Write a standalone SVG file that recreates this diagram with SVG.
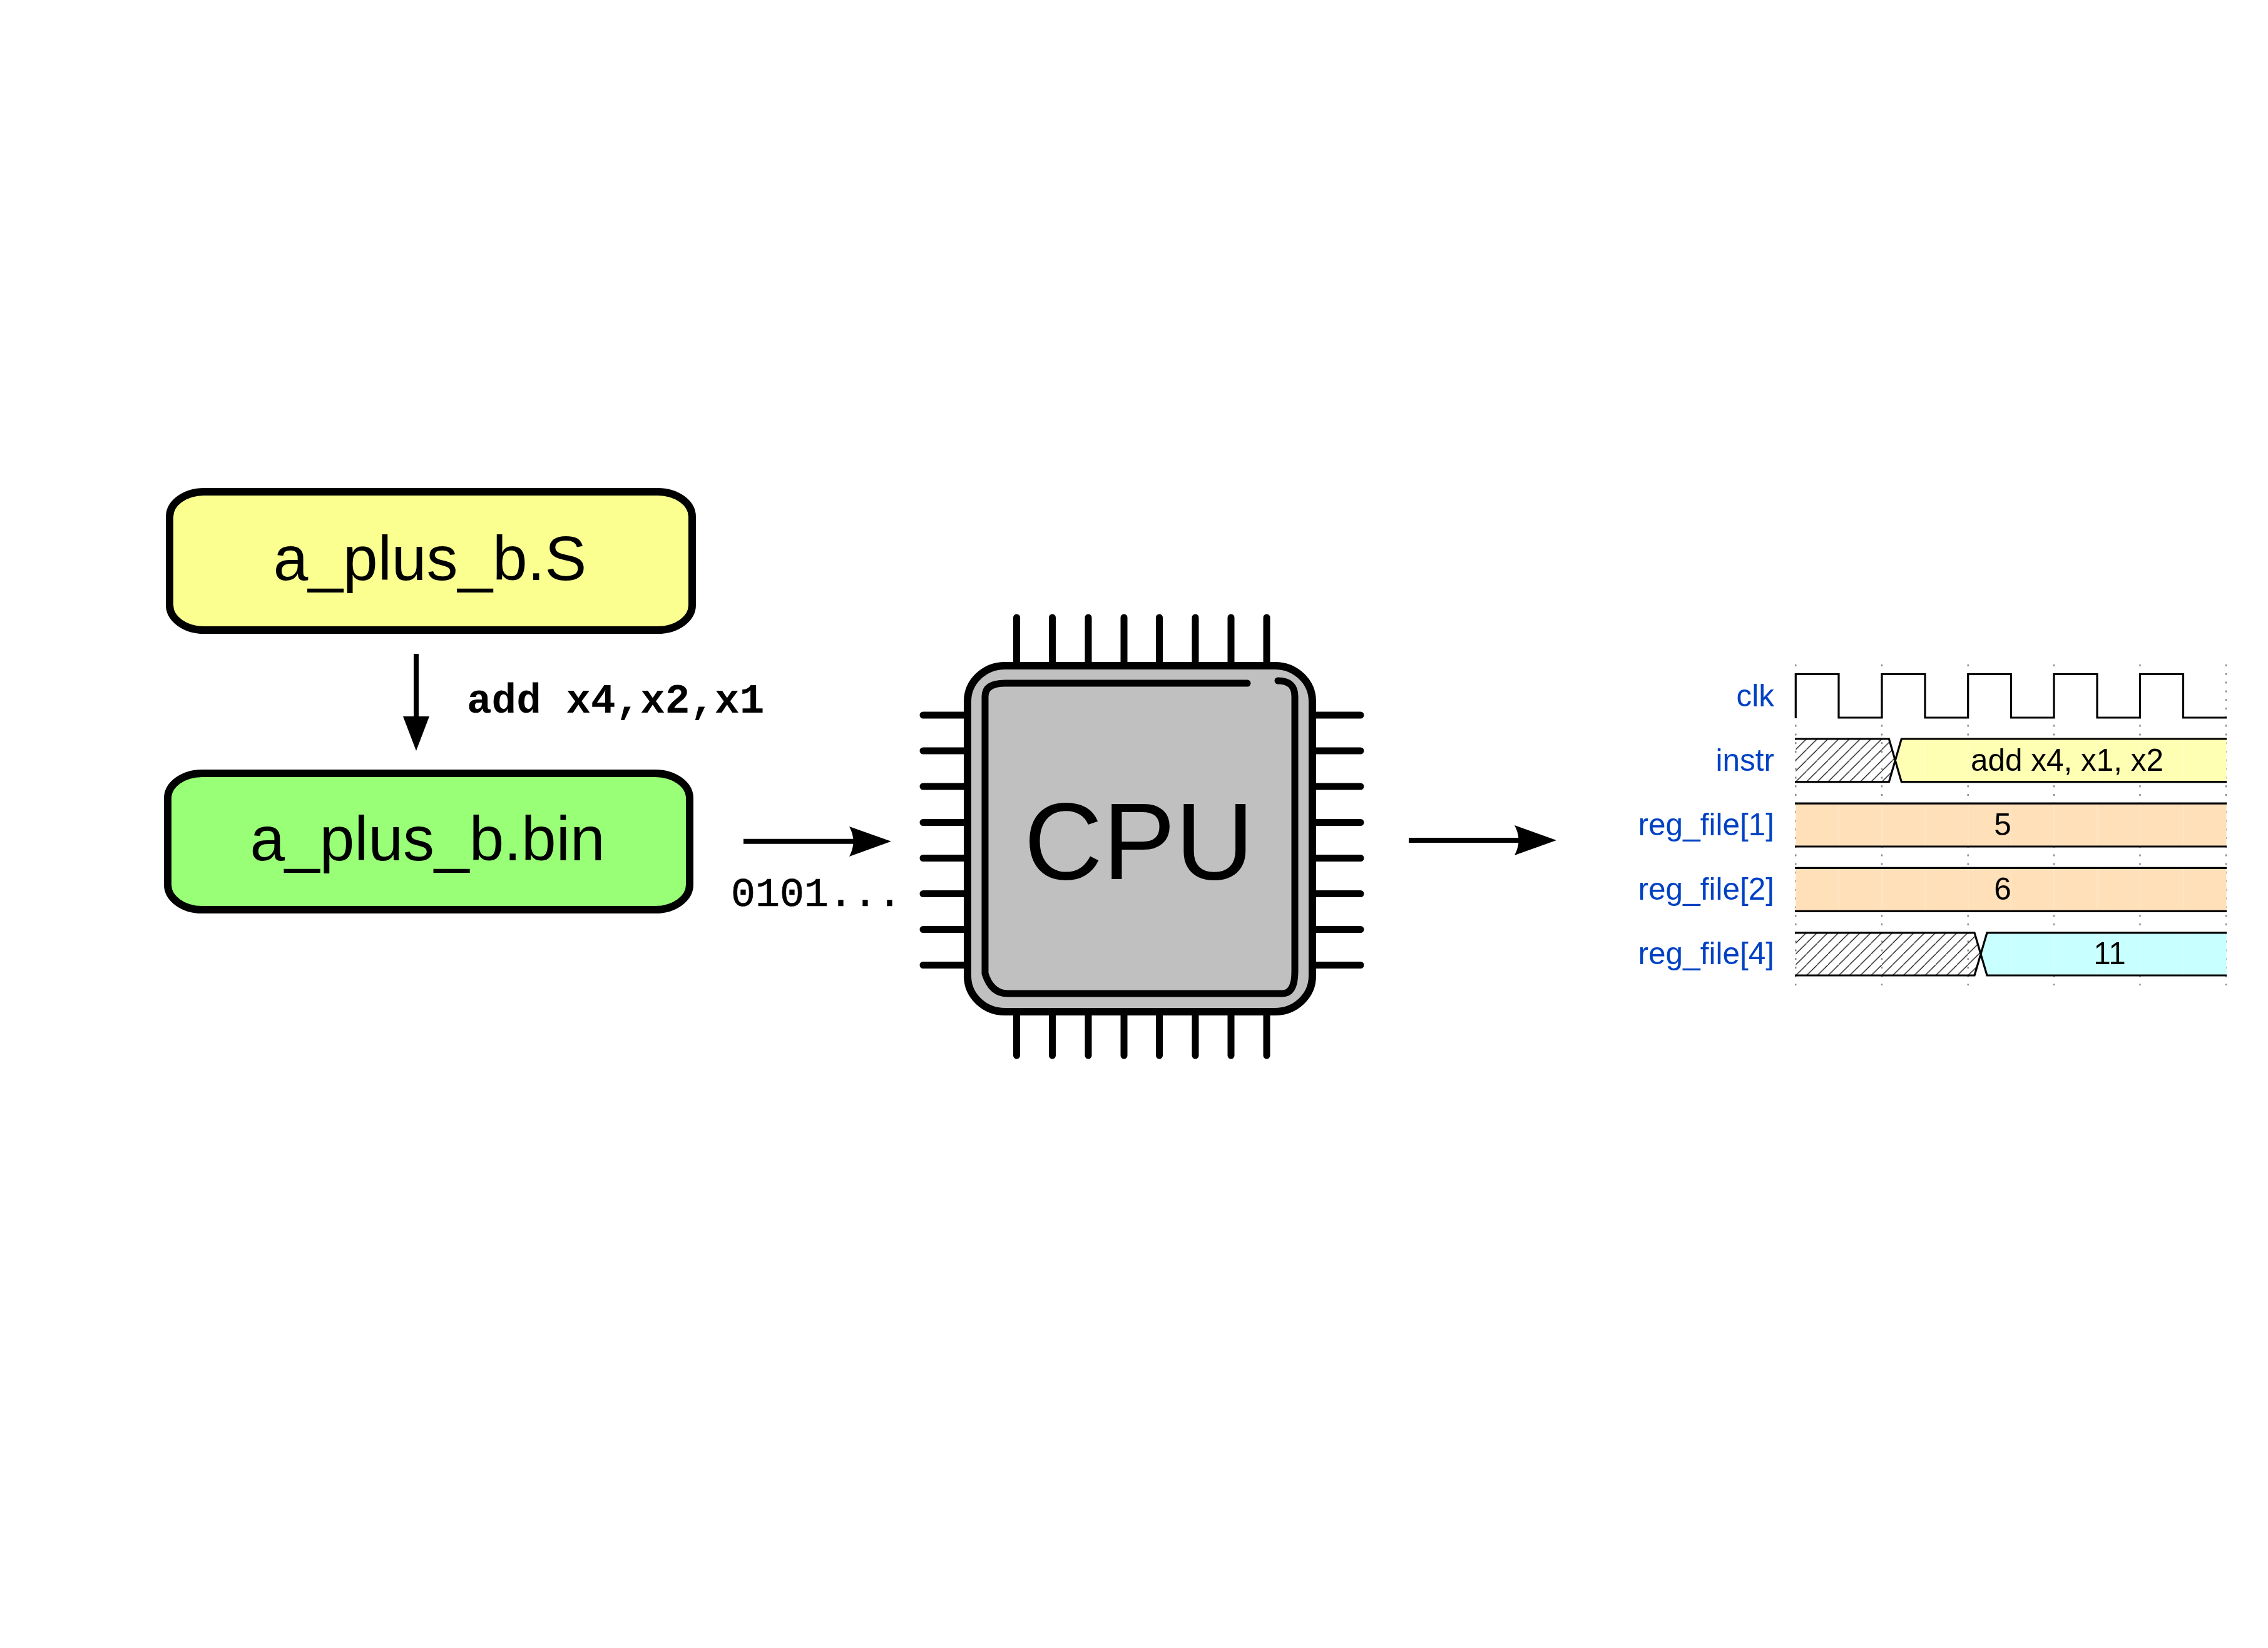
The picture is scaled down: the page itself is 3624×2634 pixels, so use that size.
<svg xmlns="http://www.w3.org/2000/svg" width="3624" height="2634" viewBox="0 0 3624 2634">
<style>
text{font-family:"Liberation Sans",Arial,sans-serif;fill:#000}
.big{font-size:100px;text-anchor:middle}
.mono{font-family:"Liberation Mono","Courier New",monospace;font-size:66px}
.box{stroke:#000;stroke-width:12}
.conn{stroke:#000;stroke-width:8;fill:none}
.pin{stroke:#000;stroke-width:11;stroke-linecap:round;fill:none}
.sig{font-size:49.5px;fill:#0041c4;text-anchor:end}
.val{font-size:49.5px;text-anchor:middle}
.wave{stroke:#000;stroke-width:3.2;fill:none}
.grid{stroke:#888;stroke-width:2.4;stroke-dasharray:3 10.8;fill:none}
.faint{stroke:#fff;stroke-width:2;opacity:.18;fill:none}
</style>
<defs>
<pattern id="hatch" patternUnits="userSpaceOnUse" x="2869.3" y="1249.7" width="17.2" height="17.2">
<path d="M-1,18.2L18.2,-1" stroke="#000" stroke-width="1.2" fill="none"/>
</pattern>
</defs>
<g id="node-source">
<rect class="box" x="271" y="786" width="835" height="221" rx="55" ry="40" fill="#FAFF8F"/>
<text class="big" x="687" y="927">a_plus_b.S</text>
</g>
<g id="node-binary">
<rect class="box" x="268" y="1236" width="834" height="218" rx="55" ry="40" fill="#99FF77"/>
<text class="big" x="683" y="1375">a_plus_b.bin</text>
</g>
<g id="connectors">
<path class="conn" d="M665,1045V1150"/>
<path d="M644,1145H686L665,1200Z" fill="#000"/>
<path class="conn" d="M1188,1344.7H1370"/>
<path d="M1357,1321L1424,1344.7L1357,1369Q1370,1344.7 1357,1321Z" fill="#000"/>
<path class="conn" d="M2251,1343H2430"/>
<path d="M2420,1319L2487,1343L2420,1367Q2433,1343 2420,1319Z" fill="#000"/>
</g>
<g id="label-asm"><text class="mono" x="746" y="1139" font-weight="bold">add x4,x2,x1</text></g>
<g id="label-bits"><text class="mono" x="1168" y="1448" font-size="65" style="font-size:65px" stroke="#000" stroke-width="0.7">0101...</text></g>
<g id="node-cpu">
<path class="pin" d="M1624.5,987V1058M1681.5,987V1058M1739,987V1058M1796,987V1058M1852.5,987V1058M1910,987V1058M1967,987V1058M2024,987V1058"/>
<path class="pin" d="M1624.5,1622V1687M1681.5,1622V1687M1739,1622V1687M1796,1622V1687M1852.5,1622V1687M1910,1622V1687M1967,1622V1687M2024,1622V1687"/>
<path class="pin" d="M1475,1143H1540M1475,1200H1540M1475,1257H1540M1475,1314.5H1540M1475,1371.5H1540M1475,1428.5H1540M1475,1485.5H1540M1475,1542.5H1540"/>
<path class="pin" d="M2103,1143H2174M2103,1200H2174M2103,1257H2174M2103,1314.5H2174M2103,1371.5H2174M2103,1428.5H2174M2103,1485.5H2174M2103,1542.5H2174"/>
<rect class="box" x="1546" y="1064" width="551" height="553" rx="60" ry="57" fill="#C0C0C0"/>
<path class="pin" d="M1993,1092H1606Q1574,1092 1574,1113V1556Q1584,1588 1610,1588H2049Q2069,1588 2069,1553V1113Q2069,1088 2042,1088"/>
<text x="1820" y="1405" font-size="174" text-anchor="middle">CPU</text>
</g>
<g id="node-waveform">
<path class="grid" d="M2869.3,1062V1575M3007,1062V1575M3144.7,1062V1575M3282,1062V1575M3419.5,1062V1575M3557,1062V1575"/>
<path fill="#ffffb4" d="M3027.5,1215.4L3038.3,1181H3557.5V1249.7H3038.3Z"/>
<path fill="#ffe0b9" d="M2869.3,1284.1H3557.5V1353H2869.3Z"/>
<path fill="#ffe0b9" d="M2869.3,1387.4H3557.5V1456H2869.3Z"/>
<path fill="#c8ffff" d="M3164.6,1525L3175,1490.8H3557.5V1559H3175Z"/>
<path fill="url(#hatch)" d="M2869.3,1181H3018.4L3027.5,1215.4L3018.4,1249.7H2869.3Z"/>
<path fill="url(#hatch)" d="M2869.3,1490.8H3155L3164.6,1525L3155,1559H2869.3Z"/>
<path class="faint" d="M2938,1284V1353M3007,1284V1353M3076,1284V1353M3145,1284V1353M3213.5,1284V1353M3282,1284V1353M3351,1284V1353M3419.5,1284V1353M3488.5,1284V1353M2938,1387V1456M3007,1387V1456M3076,1387V1456M3145,1387V1456M3213.5,1387V1456M3282,1387V1456M3351,1387V1456M3419.5,1387V1456M3488.5,1387V1456M3076,1181V1250M3145,1181V1250M3213.5,1181V1250M3282,1181V1250M3351,1181V1250M3419.5,1181V1250M3488.5,1181V1250M3213.5,1491V1559M3282,1491V1559M3351,1491V1559M3419.5,1491V1559M3488.5,1491V1559"/>
<path class="wave" d="M2869.3,1148V1077.5H2938V1147H3007V1077.5H3076V1147H3144.7V1077.5H3213.5V1147H3282V1077.5H3351V1147H3419.5V1077.5H3488.5V1147H3558"/>
<path class="wave" d="M2868,1181H3018.4L3038.3,1249.7H3558"/>
<path class="wave" d="M2868,1249.7H3018.4L3038.3,1181H3558"/>
<path class="wave" d="M2868,1284.1H3558M2868,1353H3558M2868,1387.4H3558M2868,1456.4H3558"/>
<path class="wave" d="M2868,1490.8H3155L3175,1559H3558"/>
<path class="wave" d="M2868,1559H3155L3175,1490.8H3558"/>
<text class="sig" x="2835" y="1129">clk</text>
<text class="sig" x="2835" y="1232">instr</text>
<text class="sig" x="2835" y="1334.5">reg_file[1]</text>
<text class="sig" x="2835" y="1438">reg_file[2]</text>
<text class="sig" x="2835" y="1541">reg_file[4]</text>
<text class="val" x="3303" y="1232">add x4, x1, x2</text>
<text class="val" x="3200" y="1334.5">5</text>
<text class="val" x="3200" y="1438">6</text>
<text class="val" x="3371" y="1541">11</text>
</g>
</svg>
